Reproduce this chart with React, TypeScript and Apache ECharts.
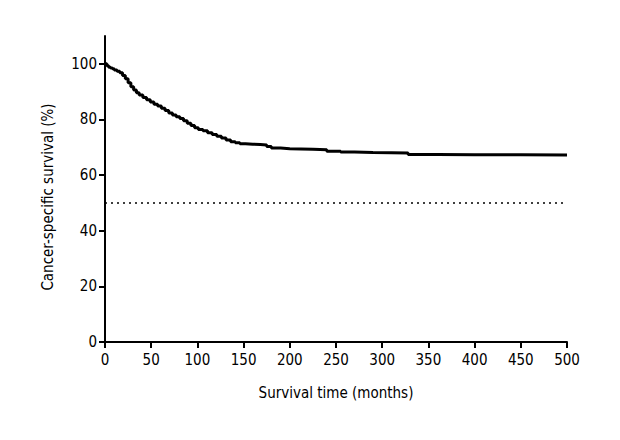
import React, { useEffect, useRef } from "react";
import * as echarts from "echarts";

const times = [0, 2, 4, 6, 8, 10, 13, 16, 19, 22, 25, 28, 31, 34, 37, 41, 45, 49, 53, 57, 61, 65, 69, 73, 77, 81, 85, 89, 93, 97, 101, 106, 111, 116, 121, 126, 131, 136, 141, 146, 152, 160, 168, 175, 180, 190, 200, 212, 225, 240, 255, 270, 290, 310, 328, 360, 400, 450, 500];
const survival = [100, 99.3, 98.8, 98.5, 98.2, 97.8, 97.3, 96.8, 95.8, 94.6, 93.2, 91.8, 90.6, 89.6, 88.8, 87.9, 87.1, 86.3, 85.5, 84.8, 84.0, 83.2, 82.3, 81.6, 81.0, 80.3, 79.5, 78.6, 77.8, 77.0, 76.4, 75.9, 75.2, 74.6, 74.0, 73.3, 72.6, 72.0, 71.6, 71.3, 71.1, 71.0, 70.8, 70.3, 69.7, 69.5, 69.4, 69.3, 69.1, 68.6, 68.3, 68.1, 68.0, 67.9, 67.4, 67.3, 67.3, 67.2, 67.2];
const medianLine = 50;
const yTicks = [0, 20, 40, 60, 80, 100];
const xTicks = [0, 50, 100, 150, 200, 250, 300, 350, 400, 450, 500];

const FONT = "'Liberation Sans Narrow', 'DejaVu Sans Condensed', sans-serif";

export default function App() {
  const ref = useRef<HTMLDivElement>(null);
  useEffect(() => {
    document.body.style.margin = "0";
    if (!ref.current) return;
    const chart = echarts.init(ref.current, null, { renderer: "svg" });
    chart.setOption({
      animation: false,
      backgroundColor: "#fff",
      grid: { left: 105, right: 53, top: 36, bottom: 98 },
      xAxis: {
        type: "value",
        min: 0,
        max: 500,
        interval: 50,
        name: "Survival time (months)",
        nameLocation: "middle",
        nameGap: 43,
        nameTextStyle: { fontFamily: FONT, fontSize: 15, color: "#000" },
        axisLine: { show: true, lineStyle: { color: "#000", width: 2 } },
        axisTick: { show: true, length: 6, lineStyle: { color: "#000", width: 2 }, customValues: xTicks },
        axisLabel: { fontFamily: FONT, fontSize: 15, color: "#000", margin: 10, customValues: xTicks },
        splitLine: { show: false },
      },
      yAxis: {
        type: "value",
        min: 0,
        max: 110,
        name: "Cancer-specific survival (%)",
        nameLocation: "middle",
        nameGap: 50,
        nameTextStyle: { fontFamily: FONT, fontSize: 15, color: "#000", padding: [0, 16, 0, 0] },
        axisLine: { show: true, lineStyle: { color: "#000", width: 2 } },
        axisTick: { show: true, length: 6, lineStyle: { color: "#000", width: 2 }, customValues: yTicks },
        axisLabel: { fontFamily: FONT, fontSize: 15, color: "#000", margin: 8, customValues: yTicks },
        splitLine: { show: false },
      },
      series: [
        {
          type: "line",
          step: "end",
          data: times.map((t, i) => [t, survival[i]]),
          showSymbol: false,
          lineStyle: { color: "#000", width: 3 },
          markLine: {
            silent: true,
            symbol: "none",
            label: { show: false },
            lineStyle: { color: "#000", type: [2, 4], width: 1.5 },
            data: [[{ coord: [0, medianLine] }, { coord: [497, medianLine] }]],
          },
        },
      ],
    });
    return () => chart.dispose();
  }, []);
  return <div ref={ref} style={{ width: 620, height: 440 }} />;
}
